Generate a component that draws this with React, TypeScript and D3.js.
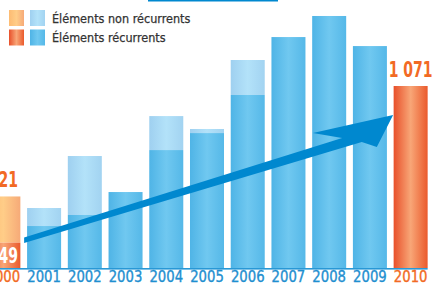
import React from "react";
import * as d3 from "d3";

// values (millions), 2000 and 2010 highlighted in orange
const years = ["2000", "2001", "2002", "2003", "2004", "2005", "2006", "2007", "2008", "2009", "2010"];
const recurring = [149, 247, 312, 447, 694, 794, 1018, 1359, 1483, 1306, 1071];
const nonRecurring = [272, 106, 347, 0, 200, 24, 206, 0, 0, 0, 0];
const highlighted = ["2000", "2010"];
const valueLabels = [
  { year: "2000", text: "421", total: true },
  { year: "2000", text: "149", total: false },
  { year: "2010", text: "1 071", total: true },
];
const legendItems = ["Éléments non récurrents", "Éléments récurrents"];

// trend arrow outline, as [fractional year, value]
const arrowOutline: [number, number][] = [
  [2000.51, 180],
  [2008.32, 765],
  [2007.6, 795],
  [2009.57, 900],
  [2009.17, 712],
  [2008.8, 742],
  [2000.51, 147],
];

const W = 435;
const H = 284;
const FONT = "'DejaVu Sans Condensed', 'Liberation Sans Narrow', sans-serif";

const App: React.FC = () => {
  const baseline = 268;
  const x = d3.scaleBand<string>().domain(years).range([-17, 431]).paddingInner(0.165).paddingOuter(0.0825);
  const y = d3.scaleLinear().domain([0, 1071]).range([baseline, 86]);
  const bw = x.bandwidth();
  const step = x.step();
  const center = (yr: number) => (x(years[0]) as number) + bw / 2 + (yr - 2000) * step;

  const arrowPath = d3.line<[number, number]>()
    .x(d => center(d[0]))
    .y(d => y(d[1]))(arrowOutline) + "Z";

  const fillFor = (yr: string, light: boolean) => {
    const orange = highlighted.includes(yr);
    return `url(#${orange ? "or" : "bl"}${light ? "L" : "D"})`;
  };

  const grad = (id: string, edge: string, mid: string, edge2: string) => (
    <linearGradient id={id} x1="0" x2="1" y1="0" y2="0">
      <stop offset="0" stopColor={edge} />
      <stop offset="0.5" stopColor={mid} />
      <stop offset="1" stopColor={edge2} />
    </linearGradient>
  );

  return (
    <svg width={W} height={H} style={{ position: "absolute", left: 0, top: 0 }} fontFamily={FONT}>
      <defs>
        {grad("blD", "#4fb4e6", "#70c8f0", "#55b8e8")}
        {grad("blL", "#9fd0f0", "#b3e2f9", "#a2d3f1")}
        {grad("orD", "#e8502a", "#f8a677", "#ea5a2c")}
        {grad("orL", "#fdbb72", "#ffcd88", "#f6aa78")}
      </defs>

      {/* cropped title underline */}
      <rect x={148} y={0} width={130} height={1.5} fill="#0088cf" />

      {/* legend */}
      {legendItems.map((t, i) => (
        <g key={t} transform={`translate(0,${10 + i * 19.5})`}>
          <rect x={9} y={0} width={15} height={16} fill={i === 0 ? "url(#orL)" : "url(#orD)"} />
          <rect x={30} y={0} width={15} height={16} fill={i === 0 ? "url(#blL)" : "url(#blD)"} />
          <text x={52} y={12.5} fontSize={12.5} fill="#333333" stroke="#333333" strokeWidth={0.25}>{t}</text>
        </g>
      ))}

      {/* bars */}
      {years.map((yr, i) => {
        const x0 = x(yr) as number;
        const r = recurring[i];
        const n = nonRecurring[i];
        return (
          <g key={yr}>
            {n > 0 && (
              <rect x={x0} y={y(r + n)} width={bw} height={y(r) - y(r + n)} fill={fillFor(yr, true)} />
            )}
            <rect x={x0} y={y(r)} width={bw} height={baseline - y(r)} fill={fillFor(yr, false)} />
          </g>
        );
      })}

      {/* axis */}
      <rect x={0} y={baseline} width={(x("2010") as number) + bw} height={1.6} fill="#2898d6" />
      {years.map(yr => {
        const c = highlighted.includes(yr) ? "#f26a24" : "#1f8fd0";
        return (
          <text
            key={yr}
            transform={`translate(${(x(yr) as number) + bw / 2},282.4) scale(0.95,1)`}
            textAnchor="middle"
            fontSize={15.5}
            fill={c}
            stroke={c}
            strokeWidth={0.35}
          >
            {yr}
          </text>
        );
      })}

      {/* trend arrow */}
      <path d={arrowPath} fill="#0088cf" />

      {/* value labels */}
      {valueLabels.map(l => {
        const i = years.indexOf(l.year);
        const cx = (x(l.year) as number) + bw / 2;
        const ty = l.total ? y(recurring[i] + nonRecurring[i]) - 9.5 : baseline - 5;
        return (
          <text
            key={l.text}
            transform={`translate(${cx},${ty}) scale(0.76,1)`}
            textAnchor="middle"
            fontSize={20.5}
            fontWeight="bold"
            fill={l.total ? "#f26a24" : "#ffffff"}
          >
            {l.text}
          </text>
        );
      })}
    </svg>
  );
};

export default App;
